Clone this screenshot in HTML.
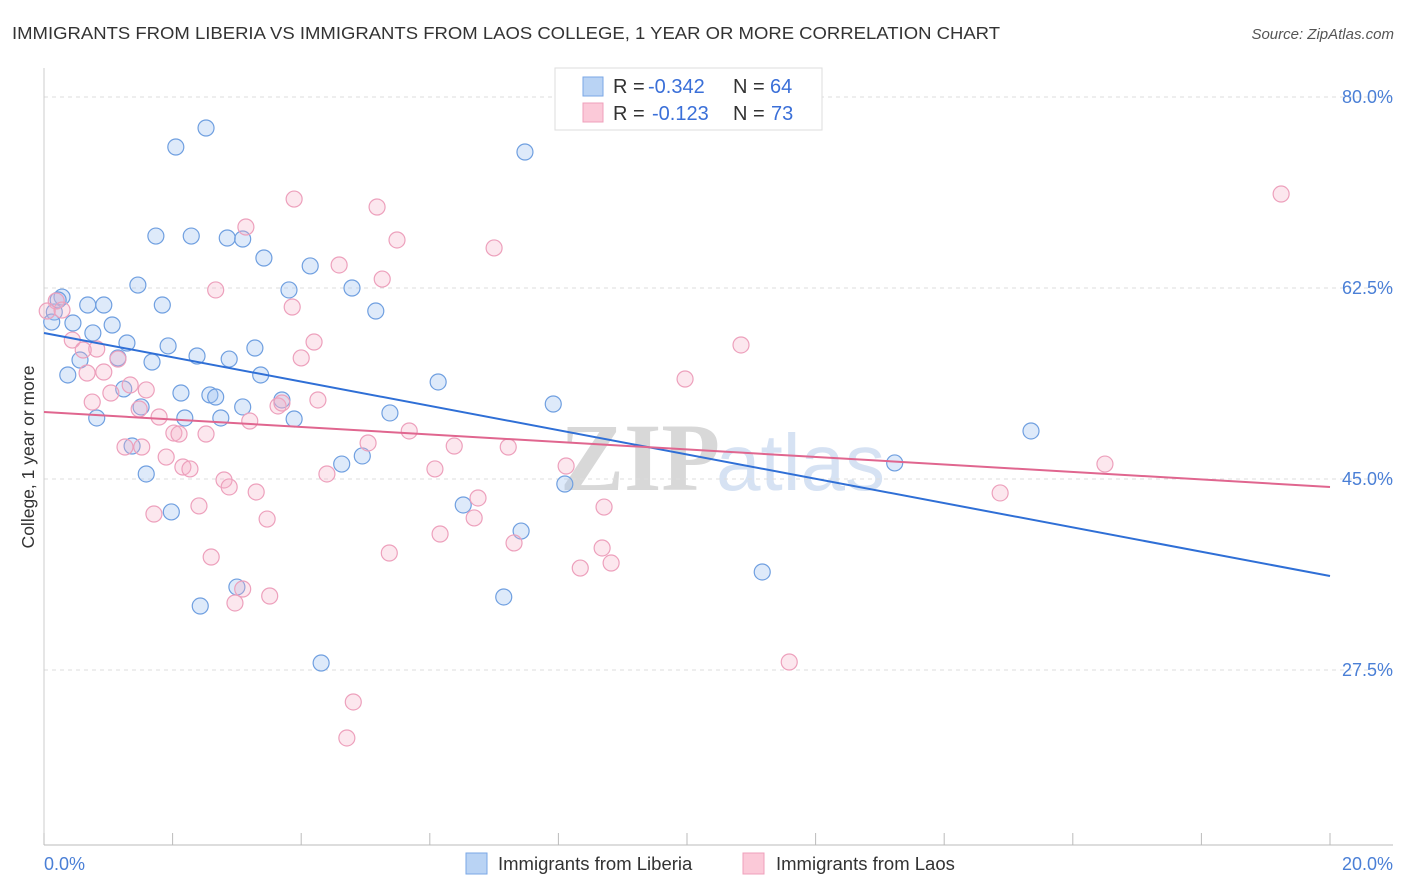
<!DOCTYPE html>
<html><head><meta charset="utf-8"><style>
body{margin:0;background:#fff;font-family:"Liberation Sans",sans-serif;}
svg{display:block}
</style></head><body>
<svg id="chart" width="1406" height="892" xmlns="http://www.w3.org/2000/svg">
<text x="12" y="39" font-size="17.5" fill="#333" textLength="988" lengthAdjust="spacingAndGlyphs">IMMIGRANTS FROM LIBERIA VS IMMIGRANTS FROM LAOS COLLEGE, 1 YEAR OR MORE CORRELATION CHART</text>
<text x="1394" y="39" font-size="15" fill="#555" text-anchor="end" font-style="italic">Source: ZipAtlas.com</text>
<g>
<text x="560" y="490" font-size="96" fill="#d8d8d8" font-family="Liberation Serif,serif" font-weight="bold">ZIP</text>
<text x="716" y="490" font-size="80" fill="#d6e2f3">atlas</text>
</g>
<g id="grid"></g>
<g id="axes"></g>
<g id="pts"></g>
<g id="lines"></g>
<text transform="translate(34,457) rotate(-90)" font-size="17.5" fill="#333" text-anchor="middle">College, 1 year or more</text>
<g>
<rect x="555" y="68" width="267" height="62" fill="#fff" stroke="#ddd"/>
<rect x="583" y="77" width="20" height="19" fill="#b9d3f4" stroke="#7aa7e6"/>
<rect x="583" y="103" width="20" height="19" fill="#fbc9d8" stroke="#efa0bb"/>
<text x="613" y="93" font-size="20" fill="#333">R = <tspan x="648" fill="#3a6fd8">-0.342</tspan></text>
<text x="733" y="93" font-size="20" fill="#333">N = <tspan x="770" fill="#3a6fd8">64</tspan></text>
<text x="613" y="120" font-size="20" fill="#333">R = <tspan x="652" fill="#3a6fd8">-0.123</tspan></text>
<text x="733" y="120" font-size="20" fill="#333">N = <tspan x="771" fill="#3a6fd8">73</tspan></text>
</g>
<g>
<rect x="466" y="853" width="21" height="21" fill="#b9d3f4" stroke="#7aa7e6"/>
<text x="498" y="870" font-size="18.5" fill="#333">Immigrants from Liberia</text>
<rect x="743" y="853" width="21" height="21" fill="#fbc9d8" stroke="#efa0bb"/>
<text x="776" y="870" font-size="18.5" fill="#333">Immigrants from Laos</text>
</g>
</svg>
<script>
const yTicks=[80,62.5,45,27.5];
const yTickLabels=["80.0%","62.5%","45.0%","27.5%"];
const xTicks=[0,2,4,6,8,10,12,14,16,18,20];
const liberiaX=[2.52,2.05,7.48,1.74,2.29,2.85,3.09,3.42,4.14,1.46,3.81,4.79,0.28,0.68,0.93,1.84,5.16,0.16,0.45,1.06,0.76,1.29,1.93,3.28,2.38,0.56,1.15,2.88,1.68,0.37,3.37,6.13,1.24,2.13,2.58,2.67,3.70,1.51,3.09,7.92,5.38,2.19,0.82,2.75,3.89,15.35,1.37,4.95,4.63,1.59,13.23,8.10,6.52,1.98,7.42,3.00,11.17,7.15,2.43,4.31,0.12,0.22];
const liberiaY=[77.16,75.42,74.96,67.26,67.26,67.08,66.99,65.25,64.52,62.77,62.32,62.5,61.67,60.94,60.94,60.94,60.39,60.30,59.29,59.11,58.38,57.46,57.19,57.00,56.27,55.90,56.09,55.99,55.72,54.53,54.53,53.89,53.25,52.88,52.70,52.51,52.24,51.60,51.60,51.87,51.05,50.59,50.59,50.59,50.50,49.40,48.02,47.11,46.37,45.46,46.47,44.54,42.62,41.98,40.23,35.10,36.48,34.19,33.36,28.14,59.38,61.40];
const laosX=[19.24,3.89,5.18,3.14,5.49,7.00,4.59,5.26,2.67,3.86,0.19,0.28,0.05,4.20,10.84,0.44,0.82,0.61,4.00,1.15,0.93,0.67,9.97,1.34,1.59,1.04,4.26,0.75,3.64,3.70,1.48,1.79,3.20,5.68,2.02,2.10,2.52,5.04,6.38,7.22,1.26,1.52,1.90,8.12,16.50,2.16,2.27,4.40,6.08,2.80,2.88,3.30,6.75,14.87,2.41,8.71,1.71,3.47,6.69,6.16,7.31,8.68,5.37,2.60,8.82,8.34,3.09,3.51,2.97,11.59,4.81,4.71];
const laosY=[71.11,70.65,69.92,68.09,66.90,66.17,64.61,63.32,62.32,60.76,61.31,60.48,60.39,57.55,57.28,57.73,56.91,56.82,56.09,55.99,54.80,54.71,54.16,53.61,53.16,52.88,52.24,52.05,51.69,51.96,51.41,50.68,50.31,49.40,49.21,49.12,49.12,48.30,48.02,47.93,47.93,47.93,47.01,46.19,46.37,46.10,45.92,45.46,45.92,44.91,44.27,43.81,43.26,43.72,42.53,42.43,41.79,41.33,41.43,39.96,39.14,38.68,38.22,37.85,37.30,36.84,34.92,34.28,33.64,28.23,24.57,21.27];
const liberiaTrend=[58.38,36.11];
const laosTrend=[51.14,44.27];
const NS="http://www.w3.org/2000/svg";
const X=v=>44+v*64.3;
const Y=v=>97+(80-v)*10.914;
function mk(tag,attrs,parent){const e=document.createElementNS(NS,tag);for(const k in attrs)e.setAttribute(k,attrs[k]);document.getElementById(parent).appendChild(e);return e;}
yTicks.forEach((t,i)=>{
 const g=mk('line',{x1:44,x2:1393,y1:Y(t),y2:Y(t),stroke:'#ddd','stroke-dasharray':'4,4'},'grid');
 
 
 const l=mk('text',{x:1393,y:Y(t)+6,'font-size':18,fill:'#4a7fd6','text-anchor':'end'},'grid');
 l.textContent=yTickLabels[i];
 
 
});
const ax=mk('line',{x1:44,x2:1393,y1:845,y2:845,stroke:'#bbb'},'axes');


const ay=mk('line',{x1:44,x2:44,y1:68,y2:845,stroke:'#ccc'},'axes');


xTicks.forEach(t=>{
 const k=mk('line',{x1:X(t),x2:X(t),y1:833,y2:845,stroke:'#bbb'},'axes');
 
 
});
const x0=mk('text',{x:44,y:870,'font-size':18,fill:'#4a7fd6'},'axes');x0.textContent='0.0%';


const x1=mk('text',{x:1393,y:870,'font-size':18,fill:'#4a7fd6','text-anchor':'end'},'axes');x1.textContent='20.0%';


liberiaX.forEach((v,i)=>{
 const c=mk('circle',{cx:X(v),cy:Y(liberiaY[i]),r:8,fill:'rgba(160,195,240,0.35)',stroke:'#6f9fe0','stroke-width':1.2},'pts');
 
 
});
laosX.forEach((v,i)=>{
 const c=mk('circle',{cx:X(v),cy:Y(laosY[i]),r:8,fill:'rgba(245,175,200,0.3)',stroke:'#eda0bc','stroke-width':1.2},'pts');
 
 
});
const bl=mk('line',{x1:X(0),y1:Y(liberiaTrend[0]),x2:X(20),y2:Y(liberiaTrend[1]),stroke:'#2f6fd6','stroke-width':2},'lines');


const pl=mk('line',{x1:X(0),y1:Y(laosTrend[0]),x2:X(20),y2:Y(laosTrend[1]),stroke:'#e0668f','stroke-width':2},'lines');


</script>
</body></html>
